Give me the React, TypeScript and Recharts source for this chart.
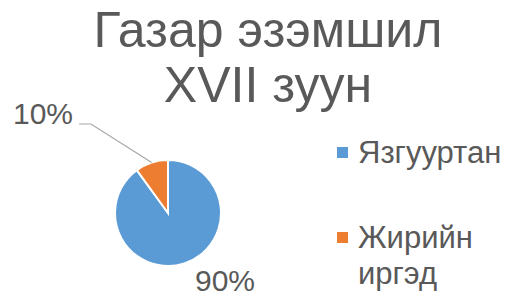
import React from "react";
import { PieChart, Pie, Cell } from "recharts";

const categories = ["Язгууртан", "Жирийн иргэд"];
const values = [90, 10];
const colors = ["#5B9BD5", "#ED7D31"];
const titleLines = ["Газар эзэмшил", "XVII зуун"];
const legendLines = [["Язгууртан"], ["Жирийн", "иргэд"]];

const data = categories.map((name, i) => ({ name, value: values[i] }));

const FONT = "'Liberation Sans', Arial, sans-serif";
const TEXT = "#595959";
const RAD = Math.PI / 180;

const renderLabel = (props: any) => {
  const { cx, cy, midAngle, outerRadius, percent, index } = props;
  const txt = `${Math.round(percent * 100)}%`;
  if (index === 0) {
    return (
      <text x={cx + 57} y={cy + 78} textAnchor="middle" fill={TEXT} fontSize={30} fontFamily={FONT}>
        {txt}
      </text>
    );
  }
  const ex = cx + outerRadius * Math.cos(-midAngle * RAD);
  const ey = cy + outerRadius * Math.sin(-midAngle * RAD);
  return (
    <g>
      <polyline
        points={`${ex},${ey} ${cx - 77},${cy - 89} ${cx - 89},${cy - 89}`}
        fill="none"
        stroke="#A6A6A6"
        strokeWidth={1.2}
      />
      <text x={cx - 95} y={cy - 89} textAnchor="end" fill={TEXT} fontSize={30} fontFamily={FONT}>
        {txt}
      </text>
    </g>
  );
};

export default function App() {
  return (
    <div style={{ position: "absolute", left: 0, top: 0, width: 515, height: 299, background: "#fff" }}>
      <PieChart width={515} height={299} margin={{ top: 0, right: 0, bottom: 0, left: 0 }}>
        <Pie
          data={data}
          dataKey="value"
          nameKey="name"
          cx={168}
          cy={213}
          outerRadius={53}
          startAngle={90}
          endAngle={-270}
          stroke="#fff"
          strokeWidth={2}
          label={renderLabel}
          labelLine={false}
          isAnimationActive={false}
        >
          {data.map((d, i) => (
            <Cell key={d.name} fill={colors[i]} />
          ))}
        </Pie>
      </PieChart>
      <svg width={515} height={299} style={{ position: "absolute", left: 0, top: 0, pointerEvents: "none" }}>
        {titleLines.map((t, i) => (
          <text key={t} x={268} y={47 + i * 55} textAnchor="middle" fill={TEXT} fontSize={50} fontFamily={FONT}>
            {t}
          </text>
        ))}
        {legendLines.map((lines, i) => {
          const baseY = i === 0 ? 163 : 248;
          return (
            <g key={i}>
              <rect x={337} y={baseY - 16} width={11} height={11} fill={colors[i]} />
              {lines.map((l, j) => (
                <text key={l} x={358} y={baseY + j * 36} fill={TEXT} fontSize={31} fontFamily={FONT}>
                  {l}
                </text>
              ))}
            </g>
          );
        })}
      </svg>
    </div>
  );
}
